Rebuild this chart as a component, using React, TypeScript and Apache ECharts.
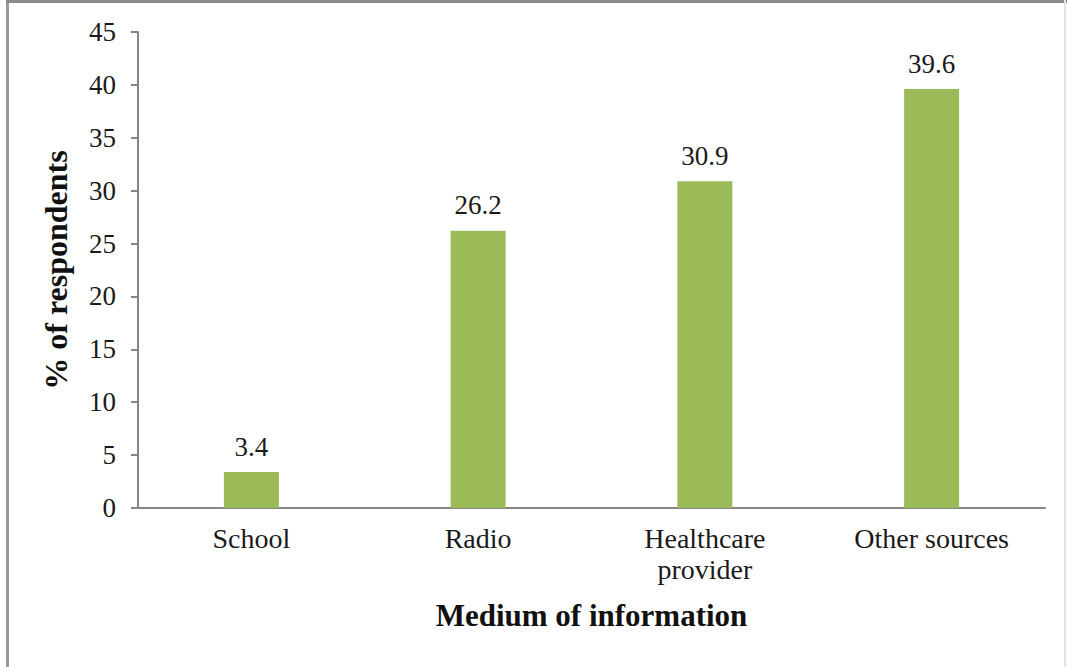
import React, { useEffect, useRef } from "react";
import * as echarts from "echarts";

const categories = ["School", "Radio", "Healthcare\nprovider", "Other sources"];
const values = [3.4, 26.2, 30.9, 39.6];
const yTicks = { min: 0, max: 45, interval: 5 };
const xTitle = "Medium of information";
const yTitle = "% of respondents";

const FONT = "Liberation Serif";

export default function App() {
  const ref = useRef<HTMLDivElement>(null);
  useEffect(() => {
    if (!ref.current) return;
    const chart = echarts.init(ref.current, null, { renderer: "svg" });
    chart.setOption({
      animation: false,
      backgroundColor: "#ffffff",
      textStyle: { fontFamily: FONT },
      grid: { left: 138, right: 22, top: 32, bottom: 159 },
      xAxis: {
        type: "category",
        data: categories,
        name: xTitle,
        nameLocation: "middle",
        nameGap: 92,
        nameTextStyle: { fontFamily: FONT, fontSize: 31, fontWeight: "bold", color: "#111" },
        axisLine: { lineStyle: { color: "#868686", width: 2 } },
        axisTick: { show: false },
        axisLabel: {
          fontFamily: FONT,
          fontWeight: "normal",
          fontSize: 28,
          color: "#1a1a1a",
          margin: 15,
          lineHeight: 31,
          interval: 0,
        },
      },
      yAxis: {
        type: "value",
        min: yTicks.min,
        max: yTicks.max,
        interval: yTicks.interval,
        name: yTitle,
        nameLocation: "middle",
        nameGap: 66,
        nameTextStyle: { fontFamily: FONT, fontSize: 32, fontWeight: "bold", color: "#111" },
        splitLine: { show: false },
        axisLine: { show: true, lineStyle: { color: "#868686", width: 2 } },
        axisTick: { show: true, length: 7, lineStyle: { color: "#868686", width: 2 } },
        axisLabel: { fontFamily: FONT, fontWeight: "normal", fontSize: 27, color: "#1a1a1a", margin: 22 },
      },
      series: [
        {
          type: "bar",
          data: values,
          barWidth: 55,
          itemStyle: { color: "#9BBB59" },
          label: {
            show: true,
            position: "top",
            distance: 12,
            fontFamily: FONT,
            fontWeight: "normal",
            fontSize: 27,
            color: "#1a1a1a",
          },
        },
      ],
      graphic: [
        { type: "rect", shape: { x: 6, y: 0, width: 3, height: 667 }, style: { fill: "#9a9a9a" } },
        { type: "rect", shape: { x: 6, y: 0, width: 1061, height: 3 }, style: { fill: "#8a8a8a" } },
        { type: "rect", shape: { x: 1064, y: 0, width: 2, height: 667 }, style: { fill: "#e4e4e4" } },
      ],
    });
    return () => chart.dispose();
  }, []);
  return (
    <div
      ref={ref}
      style={{ position: "absolute", left: 0, top: 0, width: 1067, height: 667 }}
    />
  );
}
